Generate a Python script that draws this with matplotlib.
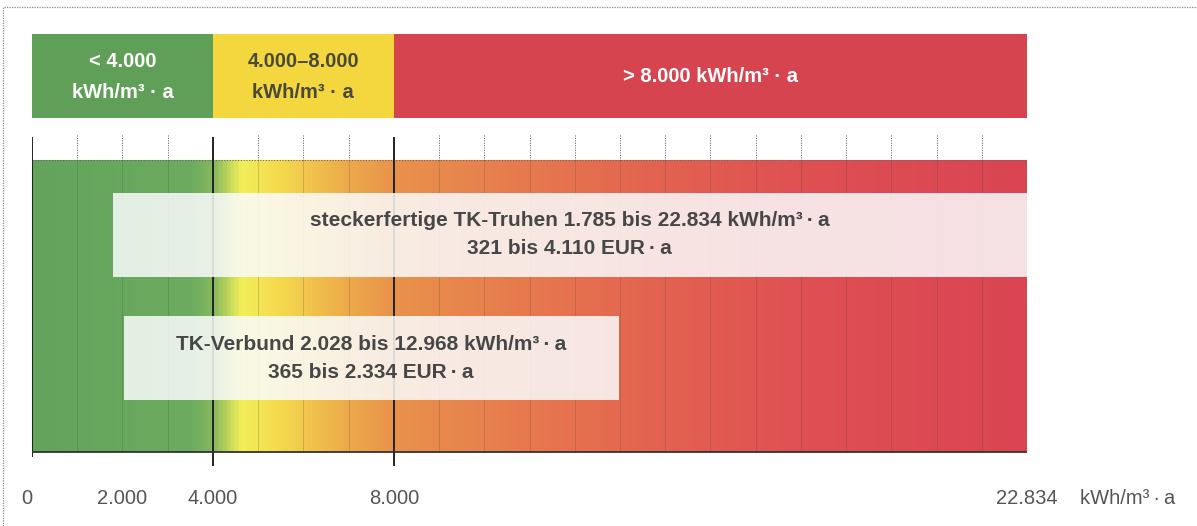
import matplotlib
matplotlib.use("Agg")
import matplotlib.pyplot as plt
import numpy as np
from matplotlib.patches import Rectangle
from matplotlib.lines import Line2D
from matplotlib.colors import LinearSegmentedColormap

plt.rcParams['font.family'] = ['Liberation Sans', 'DejaVu Sans']

# ---------------- data ----------------
class_labels = ["< 4.000\nkWh/m³ · a", "4.000–8.000\nkWh/m³ · a", "> 8.000 kWh/m³ · a"]
class_bounds = [0, 4000, 8000]            # lower bounds of the efficiency classes
class_colors = ["#5f9f58", "#f4d63e", "#d5444f"]
class_text_colors = ["white", "#4a4a3c", "white"]

products = ["steckerfertige TK-Truhen", "TK-Verbund"]
kwh_min = [1785, 2028]
kwh_max = [22834, 12968]
eur_min = [321, 365]
eur_max = [4110, 2334]

tick_values = [0, 2000, 4000, 8000]
major_lines = [0, 4000, 8000]
max_value = 22834
grid_step = 1000
n_grid = 22
unit_label = "kWh/m³\u2009·\u2009a"


def de(v):
    return f"{v:,}".replace(",", ".")


# ---------------- figure ----------------
W, H = 1197, 526
fig = plt.figure(figsize=(W / 100, H / 100), dpi=100)
fig.patch.set_facecolor("white")
ax = fig.add_axes([32 / W, 0, 995 / W, 1])
axis_end = n_grid * grid_step
ax.set_xlim(0, axis_end)
ax.set_ylim(H, 0)
ax.axis("off")

# outer dotted frame (top & left)
fig.add_artist(Line2D([3 / W, 3 / W, 1.0], [0, 1 - 7 / H, 1 - 7 / H],
                      transform=fig.transFigure, color="#888888", lw=0.9,
                      ls=(0, (1, 1))))

# ---------------- class bar on top ----------------
bounds = class_bounds + [axis_end]
for i, lab in enumerate(class_labels):
    x0, x1 = bounds[i], bounds[i + 1]
    ax.add_patch(Rectangle((x0, 34), x1 - x0, 84, facecolor=class_colors[i],
                           edgecolor="none", zorder=2))
    ax.text((x0 + x1) / 2, 77, lab, ha="center", va="center",
            fontsize=14.5, fontweight="bold", color=class_text_colors[i],
            linespacing=1.75, zorder=3)

# ---------------- gradient band ----------------
stops = [
    (0, "#63a35c"), (3500, "#6dab60"), (4000, "#86b95d"), (4600, "#f2ef5a"),
    (5400, "#f5db4e"), (7000, "#eca94a"), (8000, "#e9924b"),
    (10500, "#e77d4e"), (13500, "#e36550"), (17000, "#df5053"),
    (22000, "#da4452"),
]
cmap = LinearSegmentedColormap.from_list(
    "band", [(p / axis_end, c) for p, c in stops])
grad = np.linspace(0, 1, 1200)[None, :]
ax.imshow(grad, cmap=cmap, aspect="auto", extent=(0, axis_end, 452, 160),
          zorder=1, interpolation="bilinear")

# dotted top border of band
ax.plot([0, axis_end], [160, 160], color="#666666", lw=0.8, ls=(0, (1, 1.5)),
        zorder=4)

# grid lines
for k in range(1, n_grid + 1):
    v = k * grid_step
    if v in major_lines:
        continue
    ax.plot([v, v], [135, 160], color="#555555", lw=0.7, ls=(0, (1, 1.5)), zorder=4)
    ax.plot([v, v], [160, 452], color="#444444", lw=0.5, alpha=0.3, zorder=4)

# ---------------- major lines (under the boxes) ----------------
for v in major_lines:
    bottom = 457 if v == 0 else 466
    ax.plot([v, v], [137, bottom], color="#222222", lw=1.4, zorder=4.5,
            solid_capstyle="butt")

# ---------------- range boxes ----------------
box_y = [193, 316]
box_h = 84
for i, name in enumerate(products):
    ax.add_patch(Rectangle((kwh_min[i], box_y[i]), kwh_max[i] - kwh_min[i], box_h,
                           facecolor="#fbfcfd", alpha=0.85, edgecolor="none",
                           zorder=5))
    xc = (kwh_min[i] + min(kwh_max[i], axis_end)) / 2
    line1 = f"{name} {de(kwh_min[i])} bis {de(kwh_max[i])} {unit_label}"
    line2 = f"{de(eur_min[i])} bis {de(eur_max[i])} EUR\u2009·\u2009a"
    ax.text(xc, box_y[i] + 28, line1, ha="center", va="center", fontsize=15,
            fontweight="bold", color="#474747", zorder=7)
    ax.text(xc, box_y[i] + 56, line2, ha="center", va="center", fontsize=15,
            fontweight="bold", color="#474747", zorder=7)

# ---------------- axis ----------------
ax.plot([0, axis_end], [452, 452], color="#333333", lw=1.3, zorder=6)

# tick labels
for v in tick_values:
    ax.text(v, 498, de(v), ha="center" if v else "right", va="center",
            fontsize=14.5, color="#555555", clip_on=False)
ax.text(axis_end, 498, de(max_value), ha="center", va="center", fontsize=14.5,
        color="#555555", clip_on=False)
ax.annotate(unit_label, xy=(axis_end, 498), xytext=(53, 0),
            textcoords="offset pixels", ha="left", va="center",
            fontsize=14.5, color="#555555", annotation_clip=False)

fig.savefig("out.png", dpi=100, facecolor="white")
